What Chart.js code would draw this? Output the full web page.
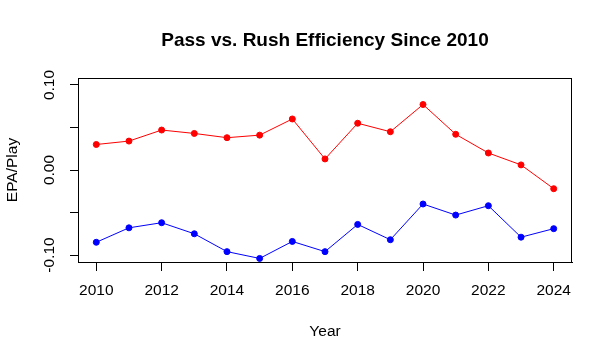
<!DOCTYPE html>
<html>
<head>
<meta charset="utf-8">
<script src="https://cdn.jsdelivr.net/npm/chart.js@4/dist/chart.umd.min.js"></script>
<style>
html,body{margin:0;padding:0;background:#fff;}
canvas{display:block;}
</style>
</head>
<body>
<canvas id="c" width="613" height="360"></canvas>
<script>
const years = [2010,2011,2012,2013,2014,2015,2016,2017,2018,2019,2020,2021,2022,2023,2024];
const passEPA = [0.030,0.034,0.047,0.043,0.038,0.041,0.060,0.013,0.055,0.045,0.077,0.042,0.020,0.006,-0.022];
const rushEPA = [-0.085,-0.068,-0.062,-0.075,-0.096,-0.104,-0.084,-0.096,-0.064,-0.082,-0.040,-0.053,-0.042,-0.079,-0.069];
const yLabeled = ["-0.10","0.00","0.10"];
const titleText = "Pass vs. Rush Efficiency Since 2010";
const xTitle = "Year";
const yTitle = "EPA/Play";

const FONT = "'Liberation Sans', Arial, sans-serif";

const boxPlugin = {
  id: 'box',
  afterDraw(chart) {
    const a = chart.chartArea, ctx = chart.ctx;
    ctx.save();
    ctx.strokeStyle = '#000';
    ctx.lineWidth = 1;
    ctx.strokeRect(Math.round(a.left) + 0.5, Math.round(a.top) + 0.5,
                   Math.round(a.right - a.left) - 1, Math.round(a.bottom - a.top));
    ctx.restore();
  }
};

new Chart(document.getElementById('c'), {
  type: 'line',
  data: {
    datasets: [
      {
        label: 'Pass',
        data: years.map((y, i) => ({x: y, y: passEPA[i]})),
        borderColor: '#FF0000',
        backgroundColor: '#FF0000',
        pointBackgroundColor: '#FF0000',
        pointBorderColor: '#FF0000',
        borderWidth: 1,
        pointRadius: 3,
        pointBorderWidth: 1,
        tension: 0
      },
      {
        label: 'Rush',
        data: years.map((y, i) => ({x: y, y: rushEPA[i]})),
        borderColor: '#0000FF',
        backgroundColor: '#0000FF',
        pointBackgroundColor: '#0000FF',
        pointBorderColor: '#0000FF',
        borderWidth: 1,
        pointRadius: 3,
        pointBorderWidth: 1,
        tension: 0
      }
    ]
  },
  options: {
    responsive: false,
    animation: false,
    devicePixelRatio: 1,
    layout: { padding: { left: 0, right: 41, top: 0, bottom: 0 } },
    plugins: {
      legend: { display: false },
      tooltip: { enabled: false },
      title: {
        display: true,
        text: titleText,
        fullSize: false,
        color: '#000',
        font: { family: FONT, size: 19, weight: 'bold', lineHeight: 1.2 },
        padding: { top: 29.6, bottom: 25.6 }
      }
    },
    scales: {
      x: {
        type: 'linear',
        min: 2009.44,
        max: 2024.56,
        afterFit(s) { s.height = 98; s.paddingLeft = 0; s.paddingRight = 0; },
        border: { display: true, color: '#000', width: 1 },
        grid: { drawOnChartArea: false, drawTicks: true, tickLength: 9, color: '#000', tickColor: '#000' },
        ticks: {
          stepSize: 2,
          includeBounds: false,
          autoSkip: false,
          maxRotation: 0,
          color: '#000',
          padding: 10,
          font: { family: FONT, size: 15.5 },
          callback: v => String(v)
        },
        title: {
          display: true,
          text: xTitle,
          color: '#000',
          font: { family: FONT, size: 15.5 },
          padding: { top: 0, bottom: 19 }
        }
      },
      y: {
        type: 'linear',
        min: -0.1082,
        max: 0.1082,
        afterFit(s) { s.width = 78; s.paddingTop = 0; s.paddingBottom = 0; },
        border: { display: true, color: '#000', width: 1 },
        grid: { drawOnChartArea: false, drawTicks: true, tickLength: 8, color: '#000', tickColor: '#000' },
        ticks: {
          stepSize: 0.05,
          includeBounds: false,
          autoSkip: false,
          minRotation: 90,
          maxRotation: 90,
          crossAlign: 'center',
          color: '#000',
          padding: 2.4,
          font: { family: FONT, size: 15.5 },
          callback: v => {
            const s = (Math.round(v * 100) / 100).toFixed(2);
            return yLabeled.includes(s) ? s : '';
          }
        },
        title: {
          display: true,
          text: yTitle,
          color: '#000',
          font: { family: FONT, size: 15.5 },
          padding: { top: 3.2, bottom: 0 }
        }
      }
    }
  },
  plugins: [boxPlugin]
});
</script>
</body>
</html>
